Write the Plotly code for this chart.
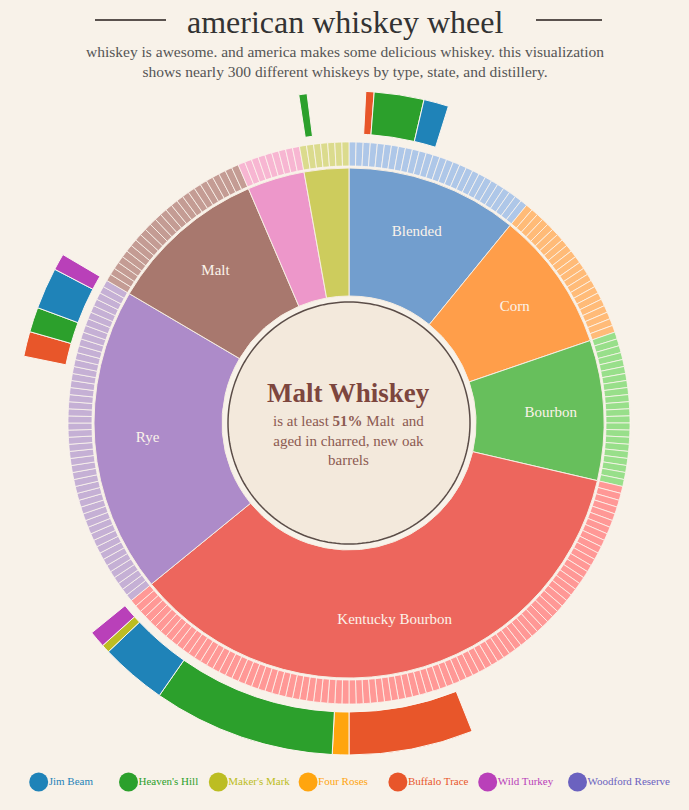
import plotly.graph_objects as go

W, H = 689, 810
BG = "#f8f2e9"
SERIF = "Liberation Serif, DejaVu Serif, serif"

# whiskey types, clockwise from 12 o'clock, with number of whiskeys in each
types = ["Blended", "Corn", "Bourbon", "Kentucky Bourbon", "Rye", "Malt", "Wheat", "Tennessee"]
type_counts = [27, 22, 22, 88, 48, 25, 9, 7]
type_labels = ["Blended", "Corn", "Bourbon", "Kentucky Bourbon", "Rye", "Malt", "", ""]
type_colors = ["#729ece", "#ff9e4a", "#67bf5c", "#ed665d", "#ad8bc9", "#a8786e", "#ed97ca", "#cdcc5d"]
type_light = ["#aec7e8", "#ffbb78", "#98df8a", "#ff9896", "#c5b0d5", "#c49c94", "#f7b6d2", "#dbdb8d"]

distilleries = ["Jim Beam", "Heaven's Hill", "Maker's Mark", "Four Roses",
                "Buffalo Trace", "Wild Turkey", "Woodford Reserve"]
distillery_colors = ["#1f83b8", "#2ca02c", "#bcbd22", "#ffa50f", "#e8562a", "#b940b9", "#6b62bf"]

# distillery arcs: whiskey type, first whiskey (within type), number of whiskeys
arc_type = ["Blended", "Blended", "Blended",
            "Kentucky Bourbon", "Kentucky Bourbon", "Kentucky Bourbon",
            "Kentucky Bourbon", "Kentucky Bourbon", "Kentucky Bourbon",
            "Rye", "Rye", "Rye", "Rye",
            "Tennessee"]
arc_first = [2, 3, 9, 38, 53, 55, 77, 85, 86, 35, 38, 41, 46, 1]
arc_count = [1, 6, 3, 15, 2, 22, 8, 1, 2, 3, 3, 5, 2, 1]
arc_distillery = ["Buffalo Trace", "Heaven's Hill", "Jim Beam",
                  "Buffalo Trace", "Four Roses", "Heaven's Hill",
                  "Jim Beam", "Maker's Mark", "Wild Turkey",
                  "Buffalo Trace", "Heaven's Hill", "Jim Beam", "Wild Turkey",
                  "Heaven's Hill"]

step = 360 / sum(type_counts)
type_start = []
acc = 0
for c in type_counts:
    type_start.append(acc * step)
    acc += c

fig = go.Figure()

# center disk
circle_theta = [i for i in range(0, 361, 2)]
fig.add_trace(go.Scatterpolar(
    r=[121] * len(circle_theta), theta=circle_theta, mode="lines",
    fill="toself", fillcolor="#f3e9dc",
    line=dict(color="#5b4d48", width=1.5), hoverinfo="skip",
))

# inner ring: whiskey types
fig.add_trace(go.Barpolar(
    theta=[s + c * step / 2 for s, c in zip(type_start, type_counts)],
    width=[c * step for c in type_counts],
    base=127, r=[128] * len(types),
    marker=dict(color=type_colors, line=dict(color="#f6ede2", width=1)),
    hovertext=types, hoverinfo="text",
))

# ring of individual whiskeys
w_theta, w_color, w_type = [], [], []
for t, s, c, col in zip(types, type_start, type_counts, type_light):
    for i in range(c):
        w_theta.append(s + (i + 0.5) * step)
        w_color.append(col)
        w_type.append(t)
fig.add_trace(go.Barpolar(
    theta=w_theta, width=[step] * len(w_theta),
    base=257, r=[24] * len(w_theta),
    marker=dict(color=w_color, line=dict(color="#fbf5ee", width=0.8)),
    hovertext=w_type, hoverinfo="text",
))

# distillery arcs
a_theta, a_width, a_color = [], [], []
for t, f, c, d in zip(arc_type, arc_first, arc_count, arc_distillery):
    s = type_start[types.index(t)] + f * step
    a_theta.append(s + c * step / 2)
    a_width.append(c * step)
    a_color.append(distillery_colors[distilleries.index(d)])
fig.add_trace(go.Barpolar(
    theta=a_theta, width=a_width,
    base=289, r=[43] * len(a_theta),
    marker=dict(color=a_color, line=dict(color="#fbf5ee", width=1)),
    hovertext=arc_distillery, hoverinfo="text",
))

# type labels
fig.add_trace(go.Scatterpolar(
    r=[202] * len(types),
    theta=[s + c * step / 2 for s, c in zip(type_start, type_counts)],
    text=type_labels, mode="text",
    textfont=dict(family=SERIF, size=15, color="#fbf3ea"),
    hoverinfo="skip",
))

# legend along the bottom
leg_x = [38.7 + i * 89.8 for i in range(len(distilleries))]
fig.add_trace(go.Scatter(
    x=[x + 10 for x in leg_x], y=[28] * len(leg_x), mode="text",
    text=distilleries, textposition="middle right",
    textfont=dict(family=SERIF, size=11, color=distillery_colors),
    hoverinfo="skip", xaxis="x", yaxis="y",
))
fig.add_trace(go.Scatter(
    x=leg_x, y=[28] * len(leg_x), mode="markers",
    marker=dict(size=19, color=distillery_colors, line=dict(width=0)),
    hovertext=distilleries, hoverinfo="text", xaxis="x", yaxis="y",
))

R = 340
cx, cy = 349, 423
fig.update_layout(
    width=W, height=H,
    margin=dict(l=0, r=0, t=0, b=0),
    paper_bgcolor=BG, plot_bgcolor="rgba(0,0,0,0)",
    showlegend=False,
    polar=dict(
        domain=dict(x=[(cx - R) / W, (cx + R) / W],
                    y=[(H - cy - R) / H, (H - cy + R) / H]),
        bgcolor="rgba(0,0,0,0)",
        radialaxis=dict(range=[0, R], visible=False),
        angularaxis=dict(rotation=90, direction="clockwise", visible=False),
        barmode="overlay",
    ),
    xaxis=dict(domain=[0, 1], range=[0, W], visible=False, fixedrange=True),
    yaxis=dict(domain=[0, 50 / H], range=[0, 50], visible=False, fixedrange=True),
    shapes=[
        dict(type="line", xref="paper", yref="paper", x0=95 / W, x1=166 / W,
             y0=1 - 20 / H, y1=1 - 20 / H, line=dict(color="#5a524e", width=2)),
        dict(type="line", xref="paper", yref="paper", x0=536 / W, x1=602 / W,
             y0=1 - 20 / H, y1=1 - 20 / H, line=dict(color="#5a524e", width=2)),
    ],
    annotations=[
        dict(text="american whiskey wheel", x=0.5, y=1 - 22 / H,
             xref="paper", yref="paper", showarrow=False, yanchor="middle",
             font=dict(family=SERIF, size=32, color="#333333")),
        dict(text="whiskey is awesome. and america makes some delicious whiskey. this visualization"
                  "<br>shows nearly 300 different whiskeys by type, state, and distillery.",
             x=0.5, y=1 - 62 / H, xref="paper", yref="paper", showarrow=False,
             yanchor="middle", font=dict(family=SERIF, size=15.5, color="#555555")),
        dict(text="<b>Malt Whiskey</b>", x=cx / W, y=1 - 393 / H,
             xref="paper", yref="paper", showarrow=False, yanchor="middle",
             font=dict(family=SERIF, size=27, color="#7d463e")),
        dict(text="is at least <b>51%</b> Malt  and<br>aged in charred, new oak<br>barrels",
             x=cx / W, y=1 - 441 / H, xref="paper", yref="paper", showarrow=False,
             yanchor="middle", font=dict(family=SERIF, size=15, color="#8c5a51")),
    ],
)

# drop the default page margin so the figure sits at the window's corner
fig.write_html(
    "out.html",
    config={"displayModeBar": False},
    post_script="document.body.style.margin='0';"
                "document.body.style.background='" + BG + "';",
)
